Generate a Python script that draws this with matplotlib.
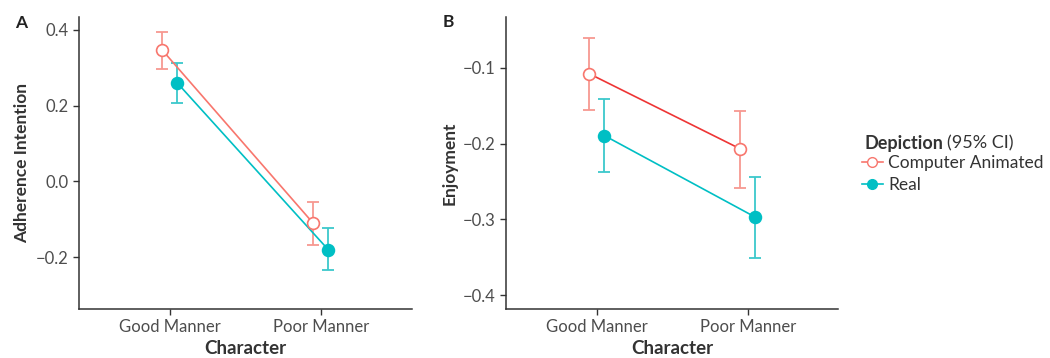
import numpy as np
import matplotlib.pyplot as plt
from matplotlib.lines import Line2D

plt.rcParams['font.family'] = ['Lato', 'DejaVu Sans']

# Datos
categorias = ['Good Manner', 'Poor Manner']
grupos = ['Computer Animated', 'Real']

# Panel A: Adherence Intention
adh_media = {'Computer Animated': [0.347, -0.111], 'Real': [0.260, -0.181]}
adh_inf = {'Computer Animated': [0.298, -0.167], 'Real': [0.206, -0.233]}
adh_sup = {'Computer Animated': [0.395, -0.054], 'Real': [0.312, -0.124]}

# Panel B: Enjoyment
enj_media = {'Computer Animated': [-0.108, -0.207], 'Real': [-0.1895, -0.297]}
enj_inf = {'Computer Animated': [-0.156, -0.258], 'Real': [-0.238, -0.351]}
enj_sup = {'Computer Animated': [-0.061, -0.157], 'Real': [-0.141, -0.244]}

rojo = '#F8766D'
verde = '#00BFC4'
gris = '#4D4D4D'

fig = plt.figure(figsize=(10.5, 3.58), dpi=100)
axA = fig.add_axes([0.0752, 0.137, 0.3168, 0.8155])
axB = fig.add_axes([0.4822, 0.137, 0.3162, 0.8155])


def graficar(ax, media, inf, sup, color_linea_ca):
    x = np.arange(1, len(categorias) + 1)
    desplaz = {'Computer Animated': -0.05, 'Real': 0.05}
    estilos = {
        'Computer Animated': dict(color_linea=color_linea_ca, color_err='#F79891', mfc='white', mec=rojo),
        'Real': dict(color_linea=verde, color_err='#3CC8CB', mfc=verde, mec=verde),
    }
    for g in grupos:
        xs = x + desplaz[g]
        m = np.array(media[g])
        lo = m - np.array(inf[g])
        hi = np.array(sup[g]) - m
        e = estilos[g]
        ax.errorbar(xs, m, yerr=[lo, hi], fmt='none', ecolor=e['color_err'],
                    elinewidth=1.3, capsize=4, capthick=1.3, zorder=2)
        ax.plot(xs, m, color=e['color_linea'], lw=1.2, zorder=3)
        ax.plot(xs, m, 'o', ms=8.5, mfc=e['mfc'], mec=e['mec'], mew=1.2, zorder=4)
    ax.set_xlim(0.4, 2.6)
    ax.set_xticks(x)
    ax.set_xticklabels(categorias)
    for s in ['top', 'right']:
        ax.spines[s].set_visible(False)
    for s in ['left', 'bottom']:
        ax.spines[s].set_color('#333333')
        ax.spines[s].set_linewidth(1.1)
    ax.tick_params(colors='#333333', labelcolor=gris, labelsize=12, length=4, width=1)
    ax.set_xlabel('Character', fontsize=13.5, fontweight='bold', color='#333333', labelpad=3)


graficar(axA, adh_media, adh_inf, adh_sup, rojo)
axA.set_ylim(-0.337, 0.434)
axA.set_yticks([0.4, 0.2, 0.0, -0.2])
axA.set_yticklabels(['0.4', '0.2', '0.0', '\u22120.2'])
axA.set_ylabel('Adherence Intention', fontsize=12.5, fontweight='bold', color='#333333', labelpad=4)

graficar(axB, enj_media, enj_inf, enj_sup, '#EE3535')
axB.set_ylim(-0.418, -0.0332)
axB.set_yticks([-0.1, -0.2, -0.3, -0.4])
axB.set_yticklabels(['\u22120.1', '\u22120.2', '\u22120.3', '\u22120.4'])
axB.set_ylabel('Enjoyment', fontsize=12.5, fontweight='bold', color='#333333', labelpad=4)

fig.text(15 / 1050, 1 - 23 / 358, 'A', fontsize=12.5, fontweight='bold', color='#222222', va='center')
fig.text(443 / 1050, 1 - 22 / 358, 'B', fontsize=12.5, fontweight='bold', color='#222222', va='center')

# Leyenda
t1 = fig.text(864 / 1050, 1 - 143 / 358, 'Depiction', fontsize=13, fontweight='bold',
              color='#333333', va='center')
fig.canvas.draw()
bb = t1.get_window_extent()
fig.text(bb.x1 / fig.bbox.width + 0.004, 1 - 143 / 358, '(95% CI)', fontsize=13,
         color='#333333', va='center')

manejadores = [
    Line2D([], [], color=rojo, lw=1.2, marker='o', ms=7, mfc='white', mec=rojo),
    Line2D([], [], color=verde, lw=1.2, marker='o', ms=7, mfc=verde, mec=verde),
]
fig.legend(manejadores, grupos, loc='upper left', bbox_to_anchor=(862 / 1050, 1 - 155 / 358),
           frameon=False, fontsize=12.5, handlelength=1.2, handletextpad=0.3,
           labelspacing=0.35, borderaxespad=0, borderpad=0, labelcolor='#333333')

fig.savefig('out.png', dpi=100)
